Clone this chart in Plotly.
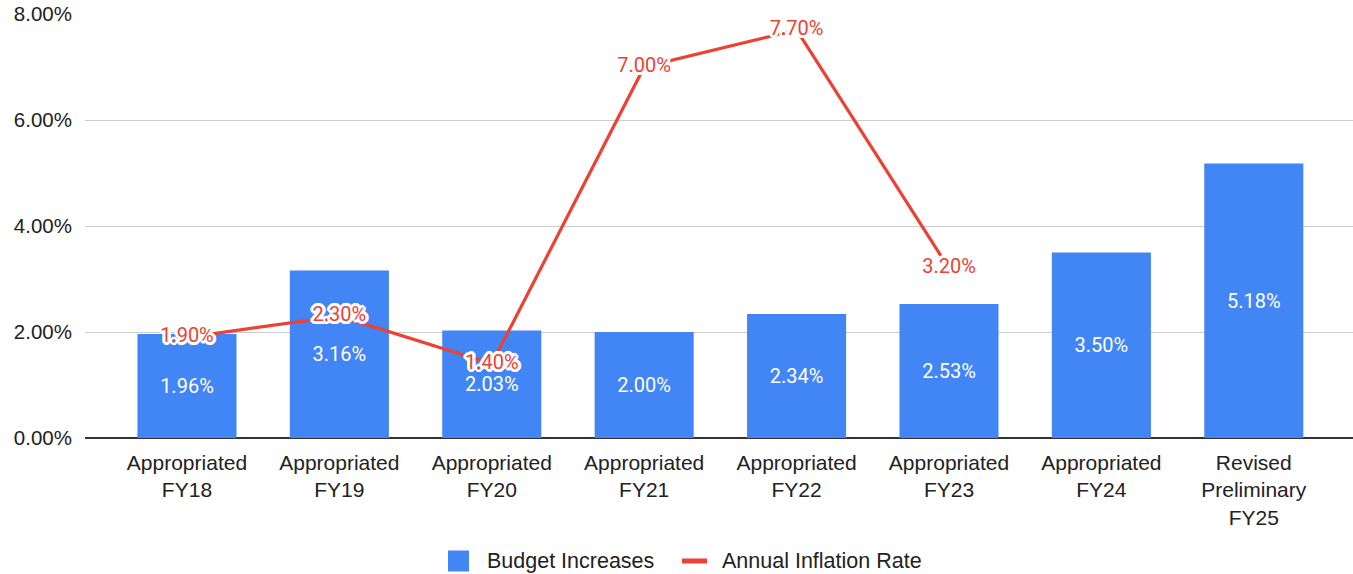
import plotly.graph_objects as go

# Budget growth vs. inflation, in percent
categories = [
    "Appropriated<br>FY18", "Appropriated<br>FY19", "Appropriated<br>FY20",
    "Appropriated<br>FY21", "Appropriated<br>FY22", "Appropriated<br>FY23",
    "Appropriated<br>FY24", "Revised<br>Preliminary<br>FY25",
]
budget_increases = [1.96, 3.16, 2.03, 2.00, 2.34, 2.53, 3.50, 5.18]
inflation_categories = categories[:6]
inflation_rate = [1.90, 2.30, 1.40, 7.00, 7.70, 3.20]
y_ticks = [0, 2, 4, 6, 8]
y_tick_labels = [f"{v:.2f}%" for v in y_ticks]
legend_names = ["Budget Increases", "Annual Inflation Rate"]

BLUE = "#4285F4"
RED = "#EA4335"
LABEL_FONT = "Roboto"
AXIS_FONT = "Liberation Sans, Arial"
TEXT = "#222222"

W, H = 1353, 574
ML, MR, MT, MB = 85, 0, 14, 136

# white outline around the line's value labels
halo = ", ".join(
    f"white {dx}px {dy}px 0"
    for dx, dy in [(-2, -2), (2, -2), (-2, 2), (2, 2), (0, -3), (0, 3), (-3, 0), (3, 0),
                   (-1, -3), (1, -3), (-1, 3), (1, 3), (-3, -1), (-3, 1), (3, -1), (3, 1)]
)

fig = go.Figure()
fig.add_trace(go.Bar(
    x=categories, y=budget_increases, name=legend_names[0],
    marker=dict(color=BLUE, line=dict(width=0)),
    width=0.65,
    texttemplate="%{y:.2f}%", textposition="inside", insidetextanchor="middle",
    textfont=dict(family=LABEL_FONT, size=20, color="white"),
    constraintext="none", cliponaxis=False, hoverinfo="skip", showlegend=False,
))
fig.add_trace(go.Scatter(
    x=inflation_categories, y=inflation_rate, name=legend_names[1],
    mode="lines+text", line=dict(color=RED, width=3.2),
    texttemplate="%{y:.2f}%", textposition="middle center",
    textfont=dict(family=LABEL_FONT, size=20, color=RED, shadow=halo),
    cliponaxis=False, hoverinfo="skip", showlegend=False,
))

# legend drawn below the plot, positioned in pixels
pw, ph = W - ML - MR, H - MT - MB
px = lambda x: (x - ML) / pw
py = lambda y: (H - MB - y) / ph
legend_y = 561
fig.add_shape(type="rect", xref="paper", yref="paper",
              x0=px(448), x1=px(469), y0=py(550.5), y1=py(571.5),
              fillcolor=BLUE, line=dict(width=0))
fig.add_shape(type="line", xref="paper", yref="paper",
              x0=px(682), x1=px(707), y0=py(legend_y), y1=py(legend_y),
              line=dict(color=RED, width=5))
for name, x in zip(legend_names, [485, 720]):
    fig.add_annotation(text=name, xref="paper", yref="paper", x=px(x), y=py(legend_y),
                       xanchor="left", yanchor="middle", showarrow=False,
                       font=dict(family=AXIS_FONT, size=21.5, color=TEXT))

fig.update_layout(
    width=W, height=H,
    margin=dict(l=ML, r=MR, t=MT, b=MB, autoexpand=False),
    paper_bgcolor="white", plot_bgcolor="white",
    font=dict(family=AXIS_FONT, size=20, color=TEXT),
    showlegend=False,
)
fig.update_xaxes(
    range=[-0.669, 7.651], showgrid=False, showline=False, ticks="",
    ticklabelstandoff=10,
    tickfont=dict(family=AXIS_FONT, size=21, color=TEXT),
)
fig.update_yaxes(
    range=[0, 8], tickvals=y_ticks, ticktext=y_tick_labels,
    showgrid=True, gridcolor="#cccccc", gridwidth=1,
    zeroline=True, zerolinecolor="#333333", zerolinewidth=1.5,
    showline=False, ticks="", ticklabelstandoff=12,
    tickfont=dict(family=AXIS_FONT, size=20.5, color=TEXT),
)

fig.write_html("out.html")
